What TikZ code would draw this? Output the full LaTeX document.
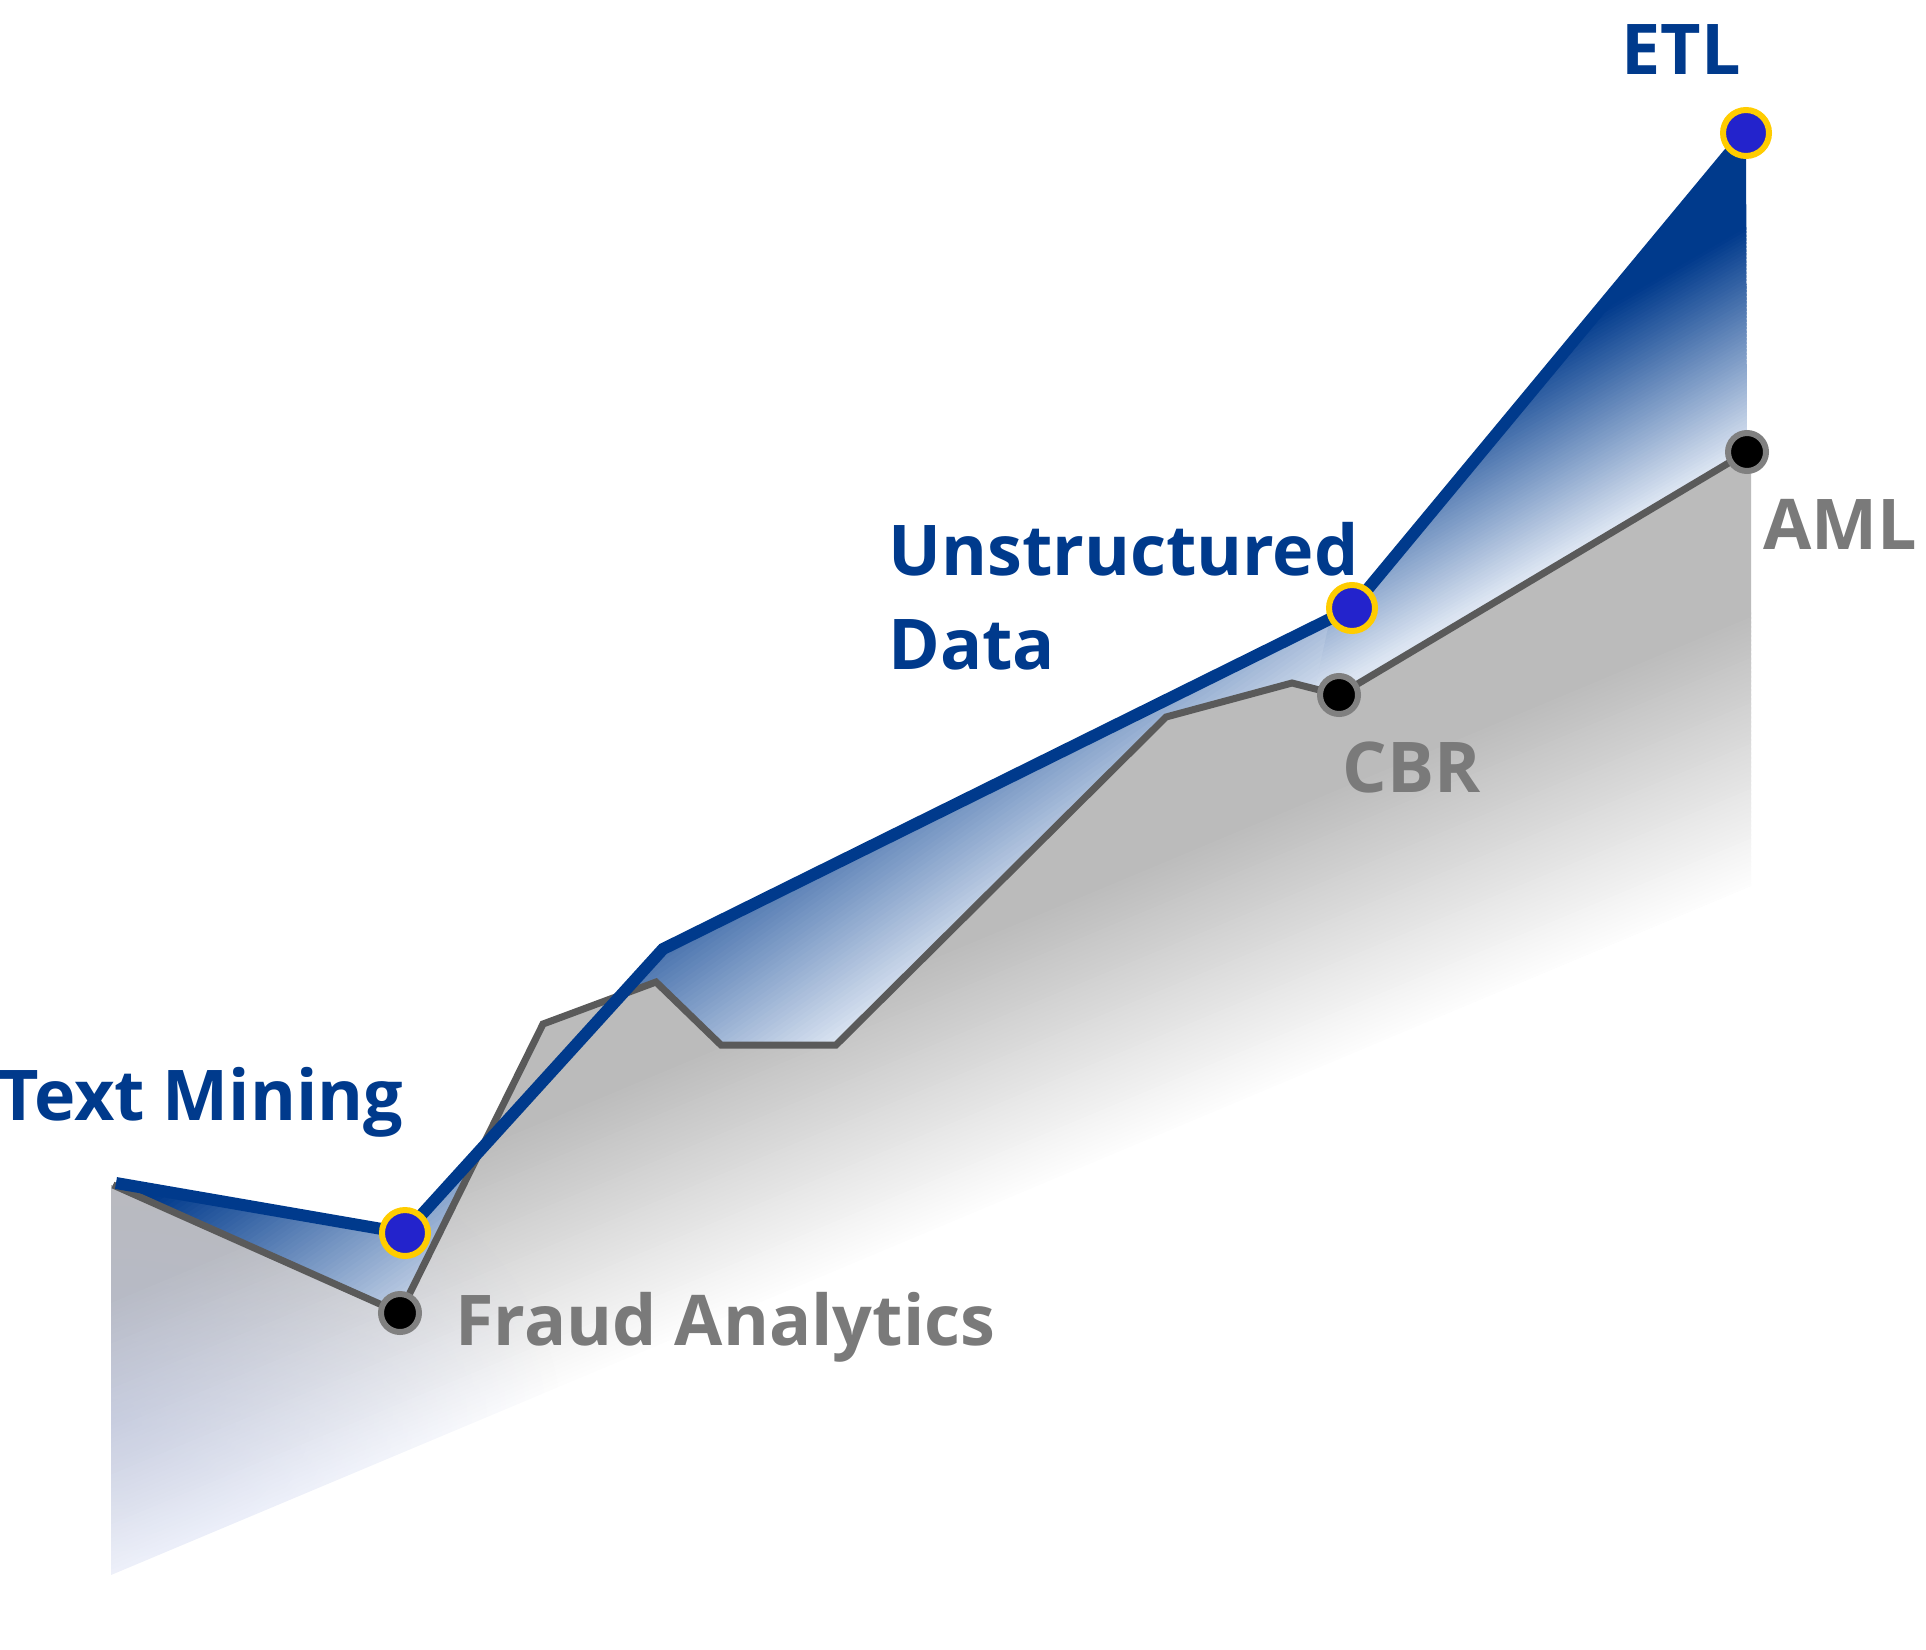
\documentclass[tikz,border=0pt]{standalone}
\usepackage{fontspec}
\setmainfont{Open Sans}
\usetikzlibrary{fadings}
\definecolor{bluedark}{RGB}{0,58,140}
\definecolor{bluepale}{RGB}{220,229,242}
\definecolor{dotblue}{RGB}{35,35,204}
\definecolor{dotyellow}{RGB}{255,204,0}
\definecolor{linegray}{RGB}{90,90,90}
\definecolor{dotgray}{RGB}{128,128,128}
\definecolor{labelgray}{RGB}{122,122,122}
\definecolor{fillgray}{RGB}{187,187,187}
\definecolor{grayend}{RGB}{253,253,253}
\definecolor{tintblue}{RGB}{170,185,235}
\tikzfading[name=tintfade, inner color=transparent!64, outer color=transparent!100]
% parallelogram band between projections #3 and #3+#4 along normal (#1,#2)
\newcommand\gradband[5]{%
  \fill[#5] ({#3*#1-3000*#2},{#3*#2+3000*#1}) -- ({#3*#1+3000*#2},{#3*#2-3000*#1}) -- ++({#4*#1},{#4*#2}) -- ++({-6000*#2},{6000*#1}) -- cycle;}
% linear gradient drawn as abutting bands: #1,#2 normal (image coords), #3 start, #4 end, #5 from colour, #6 to colour
\newcommand\gradstrips[6]{%
  \pgfmathsetmacro\pz{#3-3000}
  \gradband{#1}{#2}{\pz}{3002}{#5}
  \foreach \i in {1,...,60} {
    \pgfmathsetmacro\pa{#3+(#4-#3)*(\i-1)/60}
    \pgfmathsetmacro\wd{(#4-#3)/60+2}
    \pgfmathsetmacro\pct{100*(\i-0.5)/60}
    \gradband{#1}{#2}{\pa}{\wd}{#6!\pct!#5}
  }
  \gradband{#1}{#2}{#4}{3000}{#6}}
\begin{document}
\begin{tikzpicture}[x=0.5pt,y=-0.5pt,
  blueline/.style={draw=bluedark, line width=6pt},
  grayline/.style={draw=linegray, line width=3.5pt},
  bdot/.style={circle, fill=dotblue, draw=dotyellow, line width=3pt, minimum size=23pt, inner sep=0pt},
  kdot/.style={circle, fill=black, draw=dotgray, line width=3pt, minimum size=19pt, inner sep=0pt},
  bluelabel/.style={text=bluedark, font=\fontsize{35}{47}\selectfont\bfseries, anchor=base west, inner sep=0pt},
  graylabel/.style={text=labelgray, font=\fontsize{35}{47}\selectfont\bfseries, anchor=base west, inner sep=0pt}]
\useasboundingbox (0,0) rectangle (1926,1649);
% blue series
\coordinate (B0) at (116,1183);
\coordinate (B1) at (405,1233);
\coordinate (B2) at (663,949);
\coordinate (B3) at (1352,608);
\coordinate (B4) at (1746,133);
% gray series
\coordinate (G0) at (113,1185);
\coordinate (G1) at (400,1313);
\coordinate (G2) at (543,1024);
\coordinate (G3) at (656,982);
\coordinate (G4) at (721,1045);
\coordinate (G5) at (836,1045);
\coordinate (G6) at (1166,717);
\coordinate (G7) at (1292,683);
\coordinate (G8) at (1339,695);
\coordinate (G9) at (1747,452);
\coordinate (R1) at (1751,452);
\coordinate (R2) at (1751,886);
\coordinate (L2) at (111,1575);
\coordinate (L1) at (111,1185);
% overlap points for the right blue part
\coordinate (B3a) at (1330,619);
\coordinate (G8a) at (1315,689);
% blue area, left and middle part
\begin{scope}
\clip (B0) -- (B1) -- (B2) -- (B3) -- (G8) -- (G7) -- (G6) -- (G5) -- (G4) -- (G3) -- (G2) -- (G1) -- (G0) -- cycle;
\gradstrips{0.574}{0.819}{1070}{1335}{bluedark}{bluepale}
\end{scope}
% blue area, right part
\begin{scope}
\clip (B3a) -- (B3) -- (B4) -- (G9) -- (G8) -- (G8a) -- cycle;
\gradstrips{0.5}{0.866}{1070}{1262}{bluedark}{bluepale}
\end{scope}
% gray area
\begin{scope}
\clip (G0) -- (G1) -- (G2) -- (G3) -- (G4) -- (G5) -- (G6) -- (G7) -- (G8) -- (G9) -- (R1) -- (R2) -- (L2) -- (L1) -- cycle;
\gradstrips{0.386}{0.923}{1240}{1490}{fillgray}{grayend}
\fill[tintblue, path fading=tintfade] (-339,1100) rectangle (561,1740);
\end{scope}
% lines
\draw[grayline] (G0) -- (G1) -- (G2) -- (G3) -- (G4) -- (G5) -- (G6) -- (G7) -- (G8) -- (G9);
\draw[blueline] (B0) -- (B1) -- (B2) -- (B3) -- (B4);
% dots
\node[bdot] (dtm) at (B1) {};
\node[bdot] (dud) at (B3) {};
\node[bdot] (detl) at (B4) {};
\node[kdot] (dfa) at (G1) {};
\node[kdot] (dcbr) at (G8) {};
\node[kdot] (daml) at (G9) {};
% labels
\node[bluelabel] (ltm) at (-2,1120) {Text Mining};
\node[bluelabel] (lun) at (888,575) {Unstructured};
\node[bluelabel] (lda) at (888,669) {Data};
\node[bluelabel] (letl) at (1621,74) {ETL};
\node[graylabel] (lfa) at (455,1345) {Fraud Analytics};
\node[graylabel] (lcbr) at (1342,792) {CBR};
\node[graylabel] (laml) at (1763,549) {AML};
\end{tikzpicture}
\end{document}
